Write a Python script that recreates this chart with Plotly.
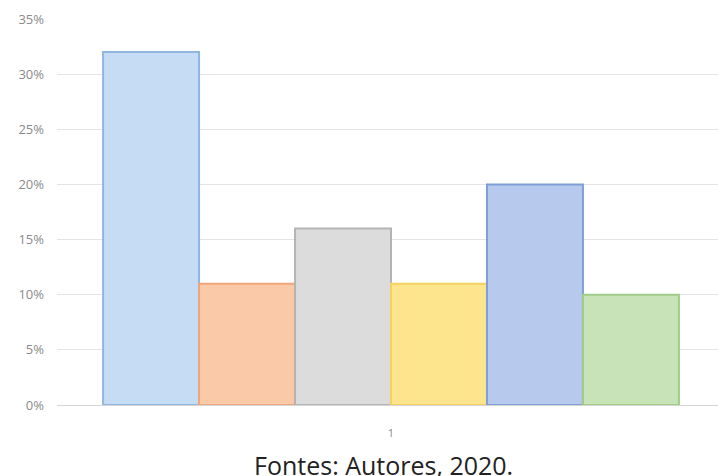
import plotly.graph_objects as go

# Share of responses per option, single group labelled "1"
category = ["1"]
values = [0.32, 0.11, 0.16, 0.11, 0.20, 0.10]
fills = ["#c6dcf4", "#f9c9a8", "#dcdcdc", "#fde58e", "#b7c9ec", "#c8e3b8"]
edges = ["#8fb6e0", "#eea67a", "#b4b4b4", "#f3d261", "#7f9fd6", "#9fcc86"]
y_ticks = [0, 0.05, 0.10, 0.15, 0.20, 0.25, 0.30, 0.35]
y_labels = ["0%", "5%", "10%", "15%", "20%", "25%", "30%", "35%"]
caption = "Fontes: Autores, 2020."

fig = go.Figure()
for i, v in enumerate(values):
    fig.add_trace(go.Bar(
        x=category, y=[v],
        marker=dict(color=fills[i], line=dict(color=edges[i], width=2)),
        showlegend=False, hoverinfo="y",
    ))

fig.update_layout(
    width=718, height=476,
    margin=dict(l=57, r=0, t=19, b=71),
    paper_bgcolor="white", plot_bgcolor="white",
    barmode="group", bargap=0.138, bargroupgap=0,
    font=dict(family="Open Sans, sans-serif"),
    xaxis=dict(
        type="category", range=[-0.5, 0.4895],
        showgrid=False, showline=False, zeroline=False,
        ticks="", tickfont=dict(size=11, color="#8a8a8a"),
        ticklabelstandoff=20,
    ),
    yaxis=dict(
        range=[0, 0.35], tickvals=y_ticks, ticktext=y_labels,
        showgrid=True, gridcolor="#e4e4e4", gridwidth=1,
        zeroline=True, zerolinecolor="#d6d6d6", zerolinewidth=1,
        showline=False, ticks="",
        tickfont=dict(size=13, color="#8a8a8a"),
        ticklabelstandoff=12,
    ),
    annotations=[dict(
        text=caption, x=0.5, xref="paper", xanchor="center", xshift=-4,
        y=0, yref="paper", yanchor="top", yshift=-41,
        showarrow=False,
        font=dict(size=25, color="#222222", family="Open Sans, sans-serif"),
    )],
)

fig.write_html("out.html")
